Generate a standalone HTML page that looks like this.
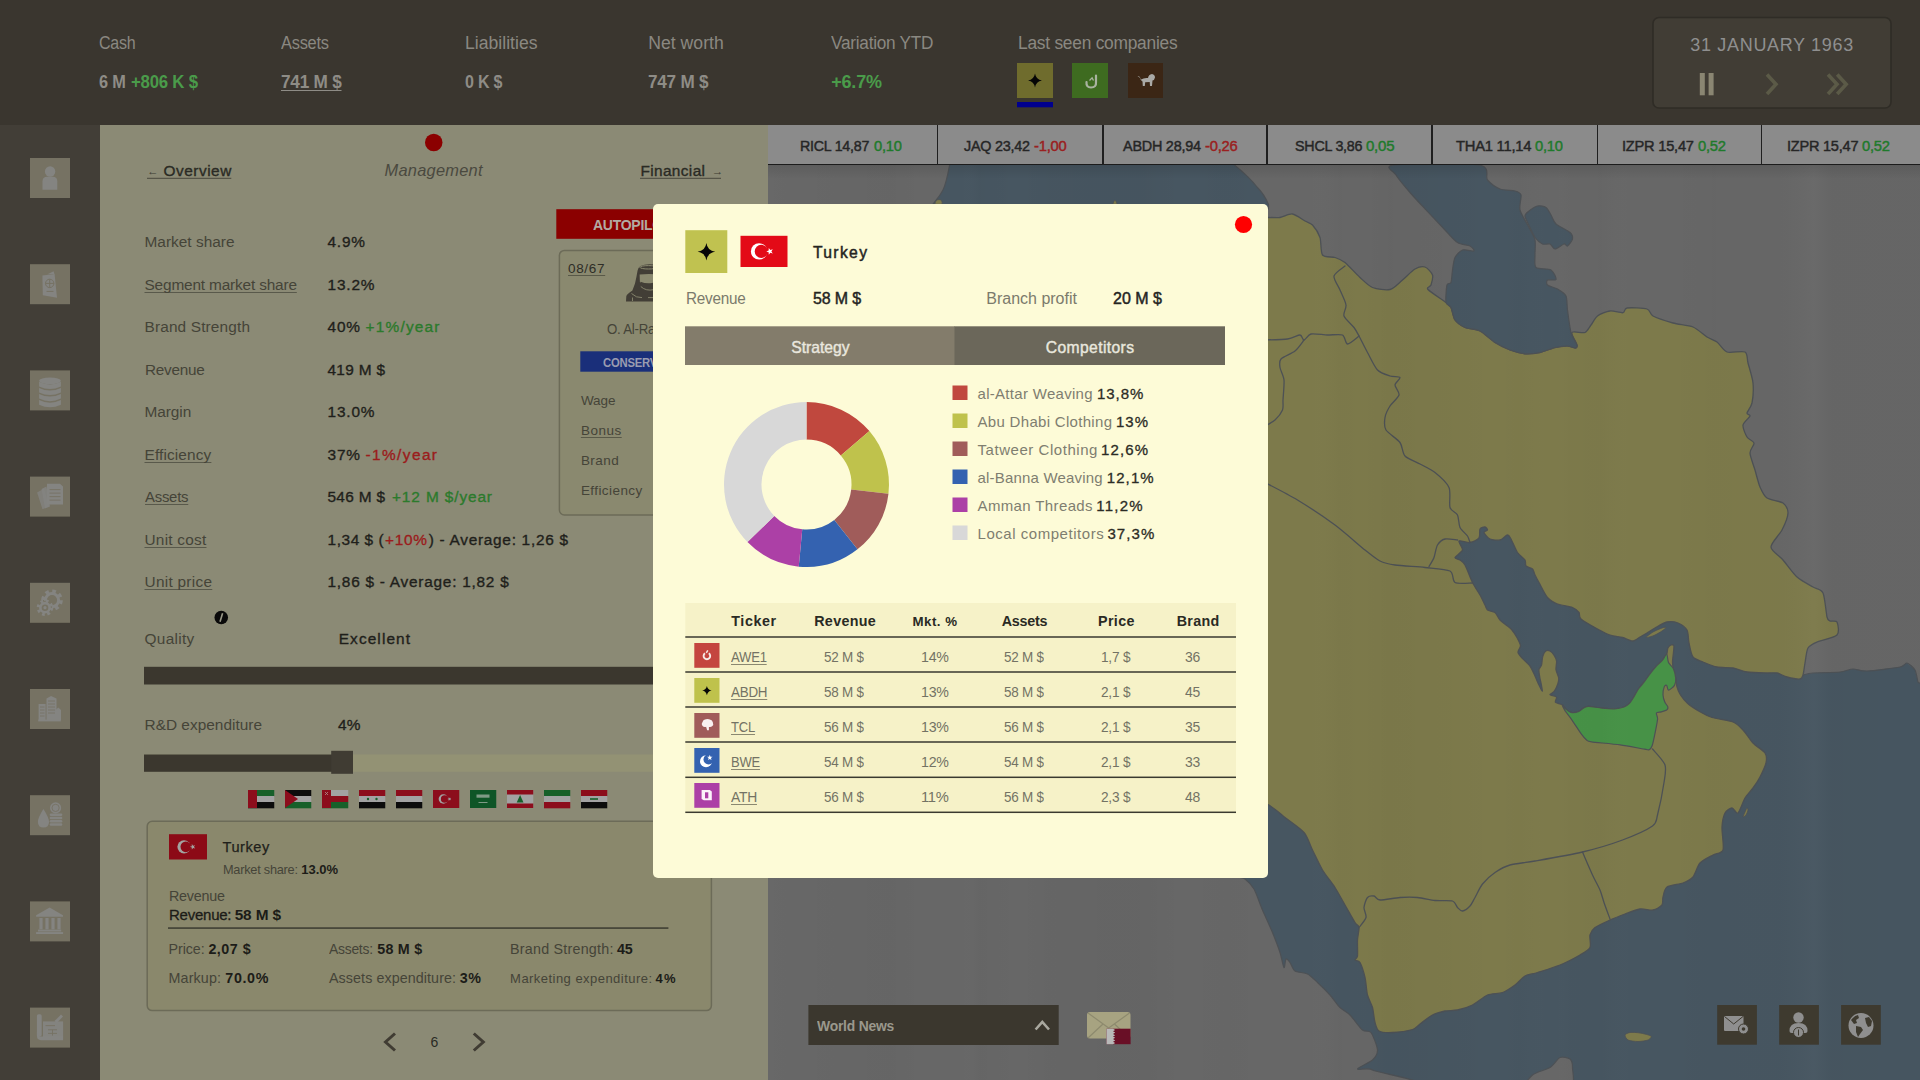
<!DOCTYPE html><html><head><meta charset="utf-8"><title>Competitors - Turkey</title><style>
html,body{margin:0;padding:0}
body{width:1920px;height:1080px;overflow:hidden;position:relative;background:#686868;font-family:"Liberation Sans",sans-serif}
.t{position:absolute;white-space:nowrap;line-height:1;transform-origin:0 0;font-family:"Liberation Sans",sans-serif}
.a{position:absolute}
svg{display:block}
</style></head><body><svg id="map" width="1920" height="1080" viewBox="0 0 1920 1080" style="position:absolute;left:0;top:0"><defs><clipPath id="mc"><rect x="768" y="165" width="1152" height="915"/></clipPath><linearGradient id="tx" x1="0" y1="0" x2="1" y2="0"><stop offset="0.000" stop-color="rgb(255,255,255)" stop-opacity="0.010"/><stop offset="0.027" stop-color="rgb(0,0,0)" stop-opacity="0.000"/><stop offset="0.059" stop-color="rgb(0,0,0)" stop-opacity="0.010"/><stop offset="0.106" stop-color="rgb(0,0,0)" stop-opacity="0.018"/><stop offset="0.134" stop-color="rgb(0,0,0)" stop-opacity="0.000"/><stop offset="0.167" stop-color="rgb(255,255,255)" stop-opacity="0.000"/><stop offset="0.184" stop-color="rgb(0,0,0)" stop-opacity="0.018"/><stop offset="0.218" stop-color="rgb(0,0,0)" stop-opacity="0.000"/><stop offset="0.245" stop-color="rgb(0,0,0)" stop-opacity="0.018"/><stop offset="0.290" stop-color="rgb(0,0,0)" stop-opacity="0.025"/><stop offset="0.322" stop-color="rgb(0,0,0)" stop-opacity="0.025"/><stop offset="0.360" stop-color="rgb(0,0,0)" stop-opacity="0.000"/><stop offset="0.397" stop-color="rgb(0,0,0)" stop-opacity="0.010"/><stop offset="0.436" stop-color="rgb(0,0,0)" stop-opacity="0.000"/><stop offset="0.467" stop-color="rgb(255,255,255)" stop-opacity="0.000"/><stop offset="0.496" stop-color="rgb(0,0,0)" stop-opacity="0.015"/><stop offset="0.518" stop-color="rgb(0,0,0)" stop-opacity="0.010"/><stop offset="0.539" stop-color="rgb(0,0,0)" stop-opacity="0.025"/><stop offset="0.584" stop-color="rgb(0,0,0)" stop-opacity="0.015"/><stop offset="0.633" stop-color="rgb(0,0,0)" stop-opacity="0.000"/><stop offset="0.652" stop-color="rgb(0,0,0)" stop-opacity="0.010"/><stop offset="0.682" stop-color="rgb(255,255,255)" stop-opacity="0.000"/><stop offset="0.697" stop-color="rgb(0,0,0)" stop-opacity="0.010"/><stop offset="0.723" stop-color="rgb(0,0,0)" stop-opacity="0.015"/><stop offset="0.752" stop-color="rgb(255,255,255)" stop-opacity="0.000"/><stop offset="0.782" stop-color="rgb(0,0,0)" stop-opacity="0.000"/><stop offset="0.821" stop-color="rgb(0,0,0)" stop-opacity="0.015"/><stop offset="0.847" stop-color="rgb(0,0,0)" stop-opacity="0.010"/><stop offset="0.877" stop-color="rgb(0,0,0)" stop-opacity="0.010"/><stop offset="0.908" stop-color="rgb(255,255,255)" stop-opacity="0.018"/><stop offset="0.924" stop-color="rgb(0,0,0)" stop-opacity="0.018"/><stop offset="0.971" stop-color="rgb(0,0,0)" stop-opacity="0.015"/></linearGradient><linearGradient id="ts" x1="0" y1="0" x2="0" y2="1"><stop offset="0" stop-color="#000" stop-opacity=".10"/><stop offset="1" stop-color="#000" stop-opacity="0"/></linearGradient></defs><g clip-path="url(#mc)"><rect x="768" y="165" width="1152" height="915" fill="#676767"/><path d="M1470.0,520.0 L1700.0,605.0 L1803.0,675.0 L1813.0,673.0 L1840.0,672.0 L1853.0,669.0 L1867.0,671.0 L1900.0,667.0 L1907.0,663.0 L1915.0,670.0 L1918.0,682.0 L1920.0,683.0 L1920.0,1090.0 L1100.0,1090.0 L1100.0,700.0 L1300.0,700.0 Z" fill="#475661"/><path d="M1200.0,217.5 C1209.1,145.2 1257.3,217.5 1268.0,217.5 C1278.7,217.5 1276.7,218.0 1280.0,217.5 C1283.3,217.0 1289.2,213.5 1292.5,214.0 C1295.8,214.5 1302.3,219.5 1305.0,221.0 C1307.7,222.5 1310.5,222.8 1312.5,225.0 C1314.5,227.2 1318.7,233.5 1320.0,237.5 C1321.3,241.5 1320.5,252.3 1322.5,255.0 C1324.5,257.7 1332.0,256.5 1335.0,257.5 C1338.0,258.5 1341.7,259.8 1345.0,262.5 C1348.3,265.2 1356.3,274.2 1360.0,277.5 C1363.7,280.8 1368.5,285.9 1372.5,287.5 C1376.5,289.1 1386.0,290.5 1390.0,289.5 C1394.0,288.5 1399.2,282.7 1402.5,280.0 C1405.8,277.3 1412.0,270.7 1415.0,269.0 C1418.0,267.3 1422.7,266.2 1425.0,267.0 C1427.3,267.8 1431.7,272.6 1432.5,275.0 C1433.3,277.4 1431.6,283.1 1431.0,285.0 C1430.4,286.9 1426.0,287.2 1428.0,289.5 C1430.0,291.8 1442.9,300.1 1446.0,302.5 C1449.1,304.9 1449.8,305.2 1451.0,307.5 C1452.2,309.8 1453.1,317.3 1455.0,320.0 C1456.9,322.7 1461.7,326.0 1465.0,327.5 C1468.3,329.0 1476.0,329.0 1480.0,331.0 C1484.0,333.0 1491.0,340.0 1495.0,342.5 C1499.0,345.0 1506.0,348.5 1510.0,350.0 C1514.0,351.5 1521.0,353.4 1525.0,353.8 C1529.0,354.1 1536.0,353.3 1540.0,352.5 C1544.0,351.7 1551.3,348.4 1555.0,347.5 C1558.7,346.6 1564.8,345.9 1567.5,346.0 C1570.2,346.1 1573.7,348.1 1575.0,348.0 C1576.3,347.9 1577.4,347.1 1577.0,345.0 C1576.6,342.9 1570.9,334.2 1572.0,332.5 C1573.1,330.8 1582.5,333.5 1585.0,332.5 C1587.5,331.5 1589.3,327.2 1591.0,325.0 C1592.7,322.8 1595.0,317.9 1597.5,316.0 C1600.0,314.1 1606.6,311.4 1610.0,311.0 C1613.4,310.6 1620.7,313.1 1623.0,312.7 C1625.3,312.3 1623.8,308.5 1627.0,308.0 C1630.2,307.5 1643.5,307.9 1647.0,309.0 C1650.5,310.1 1649.5,314.1 1653.0,316.0 C1656.5,317.9 1667.7,321.5 1673.0,323.0 C1678.3,324.5 1688.5,325.1 1693.0,327.0 C1697.5,328.9 1703.8,335.0 1707.0,337.0 C1710.2,339.0 1714.3,340.0 1717.0,342.0 C1719.7,344.0 1723.3,350.7 1727.0,352.0 C1730.7,353.3 1742.2,350.5 1745.0,352.0 C1747.8,353.5 1746.9,358.9 1748.0,363.0 C1749.1,367.1 1752.5,377.7 1753.0,383.0 C1753.5,388.3 1752.8,399.0 1752.0,403.0 C1751.2,407.0 1747.3,411.3 1747.0,413.0 C1746.7,414.7 1750.5,414.4 1750.0,416.0 C1749.5,417.6 1743.4,422.2 1743.0,425.0 C1742.6,427.8 1745.5,434.6 1747.0,437.0 C1748.5,439.4 1753.6,440.9 1754.0,443.0 C1754.4,445.1 1749.9,449.4 1750.0,453.0 C1750.1,456.6 1753.7,465.5 1755.0,470.0 C1756.3,474.5 1758.4,483.3 1760.0,487.0 C1761.6,490.7 1763.9,495.9 1767.0,498.0 C1770.1,500.1 1780.2,501.0 1783.0,503.0 C1785.8,505.0 1788.1,509.4 1788.0,513.0 C1787.9,516.6 1784.3,525.5 1782.0,530.0 C1779.7,534.5 1770.9,543.0 1771.0,547.0 C1771.1,551.0 1779.5,556.0 1783.0,560.0 C1786.5,564.0 1793.0,573.4 1797.0,577.0 C1801.0,580.6 1809.5,584.9 1813.0,587.0 C1816.5,589.1 1821.1,589.0 1823.0,593.0 C1824.9,597.0 1826.1,613.3 1827.0,617.0 C1827.9,620.7 1828.7,620.3 1830.0,621.0 C1831.3,621.7 1836.1,620.1 1837.0,622.0 C1837.9,623.9 1839.7,632.3 1837.0,635.0 C1834.3,637.7 1820.9,640.3 1817.0,642.0 C1813.1,643.7 1809.6,645.2 1808.0,648.0 C1806.4,650.8 1805.7,659.4 1805.0,663.0 C1804.3,666.6 1803.7,672.9 1803.0,675.0 C1802.3,677.1 1802.1,678.7 1800.0,679.0 C1797.9,679.3 1790.1,677.8 1787.0,677.0 C1783.9,676.2 1779.7,673.5 1777.0,673.0 C1774.3,672.5 1771.0,673.1 1767.0,673.0 C1763.0,672.9 1751.5,672.7 1747.0,672.0 C1742.5,671.3 1737.0,668.7 1733.0,668.0 C1729.0,667.3 1721.0,667.8 1717.0,667.0 C1713.0,666.2 1706.2,663.3 1703.0,662.0 C1699.8,660.7 1694.9,659.5 1693.0,657.0 C1691.1,654.5 1689.8,646.6 1689.0,643.0 C1688.2,639.4 1688.5,632.7 1687.0,630.0 C1685.5,627.3 1680.7,624.1 1678.0,623.0 C1675.3,621.9 1670.1,621.3 1667.0,622.0 C1663.9,622.7 1657.7,626.5 1655.0,628.0 C1652.3,629.5 1649.0,631.8 1647.0,633.0 C1645.0,634.2 1641.9,635.9 1640.0,637.0 C1638.1,638.1 1634.8,640.9 1632.5,641.0 C1630.2,641.1 1625.5,638.3 1622.5,637.5 C1619.5,636.7 1613.3,636.1 1610.0,635.0 C1606.7,633.9 1601.4,631.1 1597.5,629.0 C1593.6,626.9 1583.5,621.2 1581.0,619.0 C1578.5,616.8 1580.1,614.0 1579.0,612.5 C1577.9,611.0 1575.4,608.6 1572.5,607.5 C1569.6,606.4 1560.8,605.3 1557.5,604.0 C1554.2,602.7 1550.0,600.4 1547.5,597.5 C1545.0,594.6 1540.7,585.5 1539.0,582.5 C1537.3,579.5 1535.9,576.8 1535.0,575.0 C1534.1,573.2 1533.7,570.2 1532.5,569.0 C1531.3,567.8 1527.0,567.2 1526.0,566.0 C1525.0,564.8 1526.1,561.8 1525.0,560.0 C1523.9,558.2 1519.4,555.3 1517.5,552.5 C1515.6,549.7 1512.3,541.3 1511.0,539.0 C1509.7,536.7 1509.0,534.9 1507.5,535.0 C1506.0,535.1 1502.3,539.5 1500.0,540.0 C1497.7,540.5 1492.1,540.0 1490.0,539.0 C1487.9,538.0 1484.3,533.7 1484.0,532.5 C1483.7,531.3 1487.4,530.7 1487.5,530.0 C1487.6,529.3 1486.0,527.1 1485.0,527.0 C1484.0,526.9 1480.8,527.5 1480.0,529.0 C1479.2,530.5 1480.3,536.2 1479.0,538.0 C1477.7,539.8 1472.7,542.1 1470.0,542.5 C1467.3,542.9 1460.0,540.0 1459.0,541.0 C1458.0,542.0 1463.0,547.8 1462.5,550.0 C1462.0,552.2 1455.3,556.2 1455.0,557.5 C1454.7,558.8 1458.7,559.0 1460.0,560.0 C1461.3,561.0 1463.3,562.0 1465.0,565.0 C1466.7,568.0 1470.5,578.5 1472.5,582.5 C1474.5,586.5 1478.3,592.0 1480.0,595.0 C1481.7,598.0 1484.0,603.0 1485.0,605.0 C1486.0,607.0 1486.2,609.0 1487.5,610.0 C1488.8,611.0 1493.3,611.2 1495.0,612.5 C1496.7,613.8 1498.3,618.2 1500.0,620.0 C1501.7,621.8 1505.9,624.7 1507.5,626.0 C1509.1,627.3 1510.8,628.5 1512.0,630.0 C1513.2,631.5 1515.7,635.1 1516.8,637.2 C1517.9,639.3 1520.3,643.6 1520.5,645.6 C1520.7,647.6 1517.7,650.5 1518.0,652.3 C1518.3,654.1 1521.3,657.1 1522.9,658.9 C1524.5,660.7 1528.4,663.8 1530.0,666.0 C1531.6,668.2 1533.8,673.3 1534.9,675.7 C1536.0,678.1 1537.5,681.9 1538.5,684.0 C1539.5,686.1 1541.8,691.2 1542.2,691.2 C1542.6,691.2 1541.5,685.8 1541.2,684.0 C1540.9,682.2 1540.2,679.9 1539.9,678.0 C1539.6,676.1 1538.7,671.4 1538.9,669.7 C1539.1,668.0 1541.0,666.8 1541.5,665.0 C1542.0,663.2 1542.1,658.4 1542.7,656.5 C1543.3,654.6 1544.7,651.7 1545.7,651.0 C1546.7,650.3 1548.9,650.4 1550.0,651.0 C1551.1,651.6 1553.3,653.9 1554.2,655.3 C1555.1,656.7 1556.4,659.4 1556.6,661.3 C1556.8,663.2 1555.7,667.5 1556.0,669.7 C1556.3,671.9 1558.5,676.1 1558.7,678.0 C1558.9,679.9 1558.4,682.2 1557.8,684.0 C1557.2,685.8 1555.2,690.0 1554.2,691.4 C1553.2,692.8 1550.2,693.9 1550.0,694.5 C1549.8,695.1 1552.1,695.2 1553.0,695.6 C1553.9,696.0 1556.3,696.5 1556.6,697.4 C1556.9,698.3 1554.9,701.3 1555.4,702.2 C1555.9,703.1 1559.2,703.6 1560.2,704.0 C1561.2,704.4 1561.8,704.5 1562.6,705.2 C1563.4,705.9 1565.1,708.4 1566.2,709.4 C1567.3,710.4 1569.4,712.1 1571.0,712.4 C1572.6,712.7 1576.4,712.4 1578.2,711.8 C1580.0,711.2 1582.8,708.3 1584.2,707.6 C1585.6,706.9 1586.6,706.3 1589.0,706.4 C1591.4,706.5 1598.9,707.9 1602.3,708.2 C1605.7,708.5 1611.4,709.0 1614.3,708.8 C1617.2,708.6 1622.0,707.7 1624.0,707.0 C1626.0,706.3 1628.1,704.7 1629.4,703.4 C1630.7,702.1 1632.4,699.3 1633.6,697.4 C1634.8,695.5 1637.0,691.1 1638.4,689.0 C1639.8,686.9 1642.8,683.8 1644.4,681.7 C1646.0,679.6 1648.8,675.4 1650.4,673.3 C1652.0,671.2 1654.8,667.9 1656.4,666.1 C1658.0,664.3 1661.1,661.7 1662.5,660.1 C1663.9,658.5 1666.0,655.7 1666.7,654.1 C1667.4,652.5 1667.3,649.2 1667.9,648.0 C1668.5,646.8 1670.1,645.3 1670.9,645.0 C1671.7,644.7 1673.6,644.4 1673.9,645.6 C1674.2,646.8 1673.5,651.8 1673.3,654.0 C1673.1,656.2 1672.5,660.1 1672.5,662.0 C1672.5,663.9 1672.9,666.4 1673.3,668.5 C1673.7,670.6 1675.2,675.7 1675.7,678.1 C1676.2,680.5 1676.3,684.3 1676.9,686.6 C1677.5,688.9 1679.1,692.8 1680.5,695.0 C1681.9,697.2 1685.1,701.2 1687.7,703.4 C1690.3,705.6 1696.8,709.9 1700.0,711.8 C1703.2,713.7 1707.6,716.1 1712.0,717.5 C1716.4,718.9 1728.9,720.3 1733.0,722.0 C1737.1,723.7 1740.3,727.2 1743.0,730.0 C1745.7,732.8 1750.1,739.9 1753.0,743.0 C1755.9,746.1 1763.3,750.3 1765.0,753.0 C1766.7,755.7 1766.7,759.8 1766.0,763.0 C1765.3,766.2 1761.7,773.7 1760.0,777.0 C1758.3,780.3 1755.0,785.2 1753.0,788.0 C1751.0,790.8 1747.0,794.7 1745.0,798.0 C1743.0,801.3 1739.7,811.7 1738.0,813.0 C1736.3,814.3 1733.7,808.0 1732.0,808.0 C1730.3,808.0 1726.3,810.5 1725.0,813.0 C1723.7,815.5 1722.3,822.1 1722.0,827.0 C1721.7,831.9 1724.2,846.3 1723.0,850.0 C1721.8,853.7 1716.1,853.3 1713.0,855.0 C1709.9,856.7 1702.7,860.1 1700.0,863.0 C1697.3,865.9 1695.3,874.3 1693.0,877.0 C1690.7,879.7 1686.5,881.7 1683.0,883.0 C1679.5,884.3 1669.7,885.1 1667.0,887.0 C1664.3,888.9 1663.7,894.6 1663.0,897.0 C1662.3,899.4 1663.3,903.3 1662.0,905.0 C1660.7,906.7 1655.9,909.5 1653.0,910.0 C1650.1,910.5 1643.7,908.5 1640.0,909.0 C1636.3,909.5 1629.0,912.5 1625.0,914.0 C1621.0,915.5 1614.0,918.2 1610.0,920.0 C1606.0,921.8 1597.7,925.5 1595.0,927.5 C1592.3,929.5 1590.7,932.3 1590.0,935.0 C1589.3,937.7 1591.3,944.8 1590.0,947.5 C1588.7,950.2 1584.0,952.7 1580.0,955.0 C1576.0,957.3 1565.7,962.7 1560.0,965.0 C1554.3,967.3 1542.2,971.0 1537.5,972.5 C1532.8,974.0 1528.0,974.3 1525.0,976.0 C1522.0,977.7 1518.0,982.8 1515.0,985.0 C1512.0,987.2 1506.2,991.2 1502.5,992.5 C1498.8,993.8 1491.5,993.3 1487.5,995.0 C1483.5,996.7 1476.5,1003.0 1472.5,1005.0 C1468.5,1007.0 1461.2,1009.2 1457.5,1010.0 C1453.8,1010.8 1448.3,1010.3 1445.0,1011.0 C1441.7,1011.7 1435.8,1013.3 1432.5,1015.0 C1429.2,1016.7 1422.7,1022.1 1420.0,1024.0 C1417.3,1025.9 1416.2,1028.4 1412.5,1029.5 C1408.8,1030.6 1397.0,1032.3 1392.5,1032.5 C1388.0,1032.7 1381.3,1032.3 1379.0,1031.0 C1376.7,1029.7 1375.9,1025.6 1375.0,1022.5 C1374.1,1019.4 1373.5,1011.2 1372.5,1007.5 C1371.5,1003.8 1368.5,999.0 1367.5,995.0 C1366.5,991.0 1366.0,981.8 1365.0,977.5 C1364.0,973.2 1361.3,964.8 1360.0,962.5 C1358.7,960.2 1355.3,960.9 1355.0,960.0 C1354.7,959.1 1357.2,958.7 1357.5,956.0 C1357.8,953.3 1357.3,943.8 1357.5,940.0 C1357.7,936.2 1359.3,929.8 1359.0,927.5 C1358.7,925.2 1356.9,925.5 1355.0,922.5 C1353.1,919.5 1347.7,909.7 1345.0,905.0 C1342.3,900.3 1338.0,892.2 1335.0,887.5 C1332.0,882.8 1325.5,875.0 1322.5,870.0 C1319.5,865.0 1315.0,855.0 1312.5,850.0 C1310.0,845.0 1307.7,836.8 1304.0,832.5 C1300.3,828.2 1289.7,821.2 1285.0,817.5 C1280.3,813.8 1280.3,812.7 1269.0,805.0 C1257.7,797.3 1209.2,838.3 1200.0,760.0 C1190.8,681.7 1190.9,289.8 1200.0,217.5 Z" fill="#7d7a4b" stroke="#4d5155" stroke-width="1.3" stroke-linejoin="round"/><path d="M950,163 C948,174 946,184 943,190 C940,196 937,199 933,204 L933,209 L1268.5,209 L1268.5,204.5 C1265,196 1261,191 1257,187 C1250,178 1242,171 1232,163 Z" fill="#475661" stroke="#4d5155" stroke-width="1.2"/><path d="M1393.8,165.0 C1382.7,166.3 1393.8,171.3 1396.0,175.0 C1398.2,178.7 1406.1,188.0 1410.0,192.5 C1413.9,197.0 1420.3,203.8 1425.0,208.8 C1429.7,213.8 1440.7,225.5 1445.0,230.0 C1449.3,234.5 1454.2,240.4 1457.5,242.5 C1460.8,244.6 1467.8,244.9 1470.0,246.0 C1472.2,247.1 1474.8,250.5 1473.8,251.0 C1472.8,251.5 1465.0,249.1 1462.5,250.0 C1460.0,250.9 1456.3,254.8 1455.0,257.5 C1453.7,260.2 1453.0,266.7 1452.5,270.0 C1452.0,273.3 1451.7,280.5 1451.0,282.5 C1450.3,284.5 1447.7,282.3 1447.0,285.0 C1446.3,287.7 1445.5,299.5 1446.0,302.5 C1446.5,305.5 1449.8,305.2 1451.0,307.5 C1452.2,309.8 1453.1,317.3 1455.0,320.0 C1456.9,322.7 1461.7,326.0 1465.0,327.5 C1468.3,329.0 1476.0,329.0 1480.0,331.0 C1484.0,333.0 1491.0,340.0 1495.0,342.5 C1499.0,345.0 1506.0,348.5 1510.0,350.0 C1514.0,351.5 1521.0,353.4 1525.0,353.8 C1529.0,354.1 1536.0,353.3 1540.0,352.5 C1544.0,351.7 1551.3,348.4 1555.0,347.5 C1558.7,346.6 1564.8,345.9 1567.5,346.0 C1570.2,346.1 1573.7,348.1 1575.0,348.0 C1576.3,347.9 1577.5,347.1 1577.0,345.0 C1576.5,342.9 1572.3,337.2 1571.0,332.5 C1569.7,327.8 1568.2,314.9 1567.5,310.0 C1566.8,305.1 1567.3,298.8 1566.0,296.0 C1564.7,293.2 1560.0,290.5 1557.5,289.0 C1555.0,287.5 1548.8,286.2 1547.5,285.0 C1546.2,283.8 1546.4,280.7 1547.5,280.0 C1548.6,279.3 1555.5,280.8 1556.0,279.5 C1556.5,278.2 1553.7,271.6 1551.0,270.0 C1548.3,268.4 1538.1,269.5 1536.0,267.5 C1533.9,265.5 1535.1,258.7 1535.0,255.0 C1534.9,251.3 1535.8,243.7 1535.0,240.0 C1534.2,236.3 1531.0,231.5 1529.0,227.5 C1527.0,223.5 1521.1,214.3 1520.0,210.0 C1518.9,205.7 1521.7,197.5 1521.0,195.0 C1520.3,192.5 1517.8,191.8 1515.0,191.0 C1512.2,190.2 1503.7,190.5 1500.0,189.0 C1496.3,187.5 1490.3,183.2 1487.5,180.0 C1484.7,176.8 1491.5,167.0 1479.0,165.0 C1466.5,163.0 1404.8,163.7 1393.8,165.0 Z" fill="#475661" stroke="#4d5155" stroke-width="1.2" stroke-linejoin="round"/><path d="M1525.0,216.0 C1524.9,213.8 1527.3,212.3 1529.0,211.0 C1530.7,209.7 1535.2,206.5 1537.5,206.0 C1539.8,205.5 1544.2,206.3 1546.0,207.5 C1547.8,208.7 1549.7,212.8 1551.0,215.0 C1552.3,217.2 1553.5,221.7 1556.0,224.0 C1558.5,226.3 1567.8,230.5 1570.0,232.5 C1572.2,234.5 1572.8,237.2 1572.5,239.0 C1572.2,240.8 1568.6,245.3 1567.5,246.0 C1566.4,246.7 1565.7,243.6 1564.0,244.0 C1562.3,244.4 1556.9,249.0 1555.0,249.0 C1553.1,249.0 1551.7,244.7 1550.0,244.0 C1548.3,243.3 1544.5,244.9 1542.5,244.0 C1540.5,243.1 1536.7,239.7 1535.0,237.5 C1533.3,235.3 1531.3,230.4 1530.0,227.5 C1528.7,224.6 1525.1,218.2 1525.0,216.0 Z" fill="#475661" stroke="#4d5155" stroke-width="1.2" stroke-linejoin="round"/><path d="M700.0,860.0 C760.0,830.1 1080.0,864.1 1150.0,866.0 C1220.0,867.9 1213.0,872.5 1225.0,874.0 C1237.0,875.5 1237.3,876.8 1240.0,877.5 C1242.7,878.2 1243.1,877.5 1245.0,879.0 C1246.9,880.5 1251.7,884.9 1254.0,889.0 C1256.3,893.1 1260.0,904.2 1262.5,910.0 C1265.0,915.8 1270.2,926.8 1272.5,932.5 C1274.8,938.2 1278.5,947.8 1280.0,952.5 C1281.5,957.2 1283.2,966.6 1284.0,967.5 C1284.8,968.4 1285.2,959.7 1286.0,959.0 C1286.8,958.3 1288.8,960.9 1290.0,962.5 C1291.2,964.1 1292.7,969.5 1295.0,971.0 C1297.3,972.5 1304.5,972.5 1307.5,974.0 C1310.5,975.5 1314.5,979.7 1317.5,982.5 C1320.5,985.3 1327.0,991.7 1330.0,995.0 C1333.0,998.3 1337.3,1004.8 1340.0,1007.5 C1342.7,1010.2 1347.0,1012.0 1350.0,1015.0 C1353.0,1018.0 1359.7,1027.7 1362.5,1030.0 C1365.3,1032.3 1369.0,1029.8 1371.0,1032.5 C1373.0,1035.2 1377.3,1046.3 1377.5,1050.0 C1377.7,1053.7 1375.2,1057.5 1372.5,1060.0 C1369.8,1062.5 1357.5,1067.7 1357.5,1069.0 C1357.5,1070.3 1369.2,1067.2 1372.5,1070.0 C1375.8,1072.8 1472.2,1087.3 1382.5,1090.0 C1292.8,1092.7 791.0,1120.7 700.0,1090.0 C609.0,1059.3 640.0,889.9 700.0,860.0 Z" fill="#676767" stroke="#4d5155" stroke-width="1.2" stroke-linejoin="round"/><path d="M1525.0,1090.0 C1520.0,1088.0 1529.2,1078.0 1532.5,1075.0 C1535.8,1072.0 1546.3,1069.8 1550.0,1067.5 C1553.7,1065.2 1557.3,1058.6 1560.0,1057.5 C1562.7,1056.4 1568.3,1057.7 1570.0,1059.0 C1571.7,1060.3 1572.5,1063.4 1572.5,1067.5 C1572.5,1071.6 1576.3,1087.0 1570.0,1090.0 C1563.7,1093.0 1530.0,1092.0 1525.0,1090.0 Z" fill="#676767" stroke="#4d5155" stroke-width="1.2" stroke-linejoin="round"/><path d="M1803.0,675.0 C1804.3,674.7 1808.1,673.4 1813.0,673.0 C1817.9,672.6 1834.7,672.5 1840.0,672.0 C1845.3,671.5 1849.4,669.1 1853.0,669.0 C1856.6,668.9 1860.7,671.3 1867.0,671.0 C1873.3,670.7 1894.7,668.1 1900.0,667.0 C1905.3,665.9 1905.0,662.6 1907.0,663.0 C1909.0,663.4 1913.5,667.5 1915.0,670.0 C1916.5,672.5 1917.3,680.3 1918.0,682.0 C1918.7,683.7 1919.7,682.9 1920.0,683.0" fill="none" stroke="#4d5155" stroke-width="1.2"/><path d="M1646.0,637.5 C1645.9,637.0 1650.9,633.3 1653.0,632.0 C1655.1,630.7 1660.3,628.6 1662.0,628.0 C1663.7,627.4 1666.0,627.1 1666.0,627.5 C1666.0,627.9 1663.6,629.9 1662.0,631.0 C1660.4,632.1 1656.1,634.6 1654.0,635.5 C1651.9,636.4 1646.1,638.0 1646.0,637.5 Z" fill="#7d7a4b" stroke="#4d5155" stroke-width="0.8"/><path d="M1743.0,817.0 C1742.9,816.6 1744.5,813.2 1745.0,812.0 C1745.5,810.8 1746.6,808.3 1747.0,808.0 C1747.4,807.7 1748.1,809.1 1748.0,810.0 C1747.9,810.9 1746.7,814.1 1746.0,815.0 C1745.3,815.9 1743.1,817.4 1743.0,817.0 Z" fill="#7d7a4b" stroke="#4d5155" stroke-width="0.8"/><path d="M1625.0,1035.0 C1625.3,1034.0 1628.0,1032.8 1630.0,1032.5 C1632.0,1032.2 1637.2,1032.5 1640.0,1033.0 C1642.8,1033.5 1649.9,1035.1 1651.0,1036.0 C1652.1,1036.9 1649.7,1039.3 1648.0,1040.0 C1646.3,1040.7 1640.7,1041.5 1638.0,1041.5 C1635.3,1041.5 1629.7,1040.9 1628.0,1040.0 C1626.3,1039.1 1624.7,1036.0 1625.0,1035.0 Z" fill="#7d7a4b" stroke="#4d5155" stroke-width="0.8"/><path d="M935.0,204.0 C934.3,203.5 936.2,200.5 937.0,200.0 C937.8,199.5 940.3,199.5 941.0,200.0 C941.7,200.5 942.8,203.5 942.0,204.0 C941.2,204.5 935.7,204.5 935.0,204.0 Z" fill="#7d7a4b" stroke="#4d5155" stroke-width="0.8"/><path d="M1113.0,204.0 C1112.7,203.5 1114.5,200.0 1115.0,200.0 C1115.5,200.0 1117.3,203.5 1117.0,204.0 C1116.7,204.5 1113.3,204.5 1113.0,204.0 Z" fill="#7d7a4b" stroke="#4d5155" stroke-width="0.8"/><path d="M1562.6,705.2 C1562.8,705.0 1565.1,708.4 1566.2,709.4 C1567.3,710.4 1569.4,712.1 1571.0,712.4 C1572.6,712.7 1576.4,712.4 1578.2,711.8 C1580.0,711.2 1582.8,708.3 1584.2,707.6 C1585.6,706.9 1586.6,706.3 1589.0,706.4 C1591.4,706.5 1598.9,707.9 1602.3,708.2 C1605.7,708.5 1611.4,709.0 1614.3,708.8 C1617.2,708.6 1622.0,707.7 1624.0,707.0 C1626.0,706.3 1628.1,704.7 1629.4,703.4 C1630.7,702.1 1632.4,699.3 1633.6,697.4 C1634.8,695.5 1637.0,691.1 1638.4,689.0 C1639.8,686.9 1642.8,683.8 1644.4,681.7 C1646.0,679.6 1648.8,675.4 1650.4,673.3 C1652.0,671.2 1654.8,667.9 1656.4,666.1 C1658.0,664.3 1661.1,661.7 1662.5,660.1 C1663.9,658.5 1665.9,653.8 1666.7,654.1 C1667.5,654.4 1667.6,660.6 1668.5,662.5 C1669.4,664.4 1672.3,666.4 1673.3,668.5 C1674.3,670.6 1675.5,675.8 1675.7,678.1 C1675.9,680.4 1675.5,683.8 1674.5,685.4 C1673.5,687.0 1669.5,690.2 1668.5,690.2 C1667.5,690.2 1667.3,685.9 1666.7,685.4 C1666.1,684.9 1664.8,685.3 1664.3,686.6 C1663.8,687.9 1662.9,692.9 1663.0,695.0 C1663.1,697.1 1664.2,700.6 1664.9,702.2 C1665.6,703.8 1667.7,706.0 1667.9,707.0 C1668.1,708.0 1667.6,709.4 1666.7,710.0 C1665.8,710.6 1662.7,711.4 1661.3,711.8 C1659.9,712.2 1656.9,712.0 1656.4,713.0 C1655.9,714.0 1657.8,716.4 1657.6,719.0 C1657.4,721.6 1655.9,728.8 1655.2,732.3 C1654.5,735.8 1653.0,743.2 1652.2,745.5 C1651.4,747.8 1650.2,749.2 1649.2,749.7 C1648.2,750.2 1648.3,749.7 1644.4,749.1 C1640.5,748.5 1627.4,745.9 1620.3,744.9 C1613.2,743.9 1596.0,742.5 1591.5,741.9 C1587.0,741.3 1587.9,741.1 1586.6,740.1 C1585.3,739.1 1583.7,737.3 1581.8,734.7 C1579.9,732.1 1574.4,723.5 1572.2,720.3 C1570.0,717.1 1566.3,712.6 1565.0,710.6 C1563.7,708.6 1562.4,705.4 1562.6,705.2 Z" fill="#479247" stroke="#4d5155" stroke-width="1.2" stroke-linejoin="round"/><path d="M1345.0,266.0 C1343.5,267.3 1334.7,272.8 1334.0,276.0 C1333.3,279.2 1338.4,286.1 1340.0,290.0 C1341.6,293.9 1345.5,301.5 1346.0,305.0 C1346.5,308.5 1342.9,313.0 1344.0,316.0 C1345.1,319.0 1352.0,324.8 1354.0,327.5 C1356.0,330.2 1357.2,332.7 1359.0,336.0 C1360.8,339.3 1365.0,348.0 1367.5,352.5 C1370.0,357.0 1374.5,366.9 1377.5,370.0 C1380.5,373.1 1387.0,375.0 1390.0,376.0 C1393.0,377.0 1399.3,376.3 1400.0,377.5 C1400.7,378.7 1395.1,382.7 1395.0,385.0 C1394.9,387.3 1399.7,392.2 1399.0,395.0 C1398.3,397.8 1391.9,403.0 1390.0,406.0 C1388.1,409.0 1385.5,414.3 1385.0,417.5 C1384.5,420.7 1384.0,426.7 1386.0,430.0 C1388.0,433.3 1397.5,439.0 1400.0,442.5 C1402.5,446.0 1402.3,453.1 1405.0,456.0 C1407.7,458.9 1416.0,461.8 1420.0,464.0 C1424.0,466.2 1431.1,469.4 1435.0,472.5 C1438.9,475.6 1447.0,482.8 1449.0,487.5 C1451.0,492.2 1448.9,503.8 1450.0,507.5 C1451.1,511.2 1456.2,512.3 1457.5,515.0 C1458.8,517.7 1458.7,524.7 1460.0,527.5 C1461.3,530.3 1466.2,534.0 1467.5,536.0 C1468.8,538.0 1469.7,541.6 1470.0,542.5" fill="none" stroke="#4d5155" stroke-width="1.3" stroke-linejoin="round" stroke-linecap="round"/><path d="M1260.0,340.0 C1263.7,339.9 1282.2,339.7 1287.5,339.0 C1292.8,338.3 1297.8,334.9 1300.0,335.0 C1302.2,335.1 1302.5,340.1 1304.0,340.0 C1305.5,339.9 1307.9,334.7 1311.0,334.0 C1314.1,333.3 1323.3,334.9 1327.5,335.0 C1331.7,335.1 1339.8,333.8 1342.5,335.0 C1345.2,336.2 1345.3,343.9 1347.5,344.0 C1349.7,344.1 1357.5,337.1 1359.0,336.0" fill="none" stroke="#4d5155" stroke-width="1.3" stroke-linejoin="round" stroke-linecap="round"/><path d="M1304.0,340.0 C1302.8,341.5 1298.1,348.5 1295.0,351.0 C1291.9,353.5 1283.0,356.8 1281.0,359.0 C1279.0,361.2 1279.6,364.7 1280.0,367.5 C1280.4,370.3 1283.6,375.7 1284.0,380.0 C1284.4,384.3 1283.2,396.0 1283.0,400.0 C1282.8,404.0 1283.6,407.3 1282.5,410.0 C1281.4,412.7 1277.7,417.6 1275.0,420.0 C1272.3,422.4 1263.7,426.9 1262.0,428.0" fill="none" stroke="#4d5155" stroke-width="1.3" stroke-linejoin="round" stroke-linecap="round"/><path d="M1262.0,481.0 C1266.7,483.5 1287.8,494.1 1297.5,500.0 C1307.2,505.9 1326.0,518.3 1335.0,525.0 C1344.0,531.7 1359.0,545.2 1365.0,550.0 C1371.0,554.8 1376.0,559.0 1380.0,561.0 C1384.0,563.0 1389.0,564.1 1395.0,565.0 C1401.0,565.9 1417.7,566.7 1425.0,567.5 C1432.3,568.3 1446.0,569.0 1450.0,571.0 C1454.0,573.0 1452.0,580.9 1455.0,582.5 C1458.0,584.1 1470.2,582.9 1472.5,583.0" fill="none" stroke="#4d5155" stroke-width="1.3" stroke-linejoin="round" stroke-linecap="round"/><path d="M1457.5,540.0 C1455.8,539.9 1447.7,538.3 1445.0,539.0 C1442.3,539.7 1439.0,542.5 1437.5,545.0 C1436.0,547.5 1435.1,554.6 1434.0,557.5 C1432.9,560.4 1429.7,565.3 1429.0,566.5" fill="none" stroke="#4d5155" stroke-width="1.3" stroke-linejoin="round" stroke-linecap="round"/><path d="M1652.5,749.0 C1654.2,751.1 1663.5,760.5 1665.0,765.0 C1666.5,769.5 1665.0,775.8 1664.0,782.5 C1663.0,789.2 1659.0,809.2 1657.5,815.0 C1656.0,820.8 1657.2,822.7 1652.5,826.0 C1647.8,829.3 1631.8,836.5 1622.5,840.0 C1613.2,843.5 1594.2,849.2 1582.5,852.0 C1570.8,854.8 1544.7,859.3 1535.0,861.0 C1525.3,862.7 1515.3,863.5 1510.0,865.0 C1504.7,866.5 1498.7,870.0 1495.0,872.5 C1491.3,875.0 1485.2,880.7 1482.5,884.0 C1479.8,887.3 1476.7,894.6 1475.0,897.5 C1473.3,900.4 1471.7,904.2 1470.0,906.0 C1468.3,907.8 1464.2,910.8 1462.5,911.0 C1460.8,911.2 1458.8,908.8 1457.5,907.5 C1456.2,906.2 1455.5,901.9 1452.5,901.0 C1449.5,900.1 1439.7,901.0 1435.0,900.5 C1430.3,900.0 1422.2,897.9 1417.5,897.5 C1412.8,897.1 1405.0,897.2 1400.0,897.5 C1395.0,897.8 1383.5,900.2 1380.0,900.0 C1376.5,899.8 1375.7,896.3 1374.0,896.0 C1372.3,895.7 1368.8,896.0 1367.5,897.5 C1366.2,899.0 1364.2,904.8 1364.0,907.5 C1363.8,910.2 1366.7,914.8 1366.0,917.5 C1365.3,920.2 1359.9,926.2 1359.0,927.5" fill="none" stroke="#4d5155" stroke-width="1.3" stroke-linejoin="round" stroke-linecap="round"/><path d="M1582.5,852.0 C1583.8,855.1 1590.2,869.9 1592.5,875.0 C1594.8,880.1 1598.5,886.3 1600.0,890.0 C1601.5,893.7 1602.7,898.6 1604.0,902.5 C1605.3,906.4 1609.2,916.8 1610.0,919.0" fill="none" stroke="#4d5155" stroke-width="1.3" stroke-linejoin="round" stroke-linecap="round"/><rect x="768" y="165" width="1152" height="915" fill="url(#tx)"/><rect x="768" y="165" width="1152" height="14" fill="url(#ts)"/></g></svg><div class="a" style="left:768px;top:125px;width:1152px;height:40px;background:#8b8b8b;border-bottom:1.4px solid #1c1c1c;box-sizing:border-box"></div><div class="a" style="left:936.8px;top:125px;width:1.6px;height:40px;background:#1f1f1f"></div><div class="a" style="left:1102.0px;top:125px;width:1.6px;height:40px;background:#1f1f1f"></div><div class="a" style="left:1266.0px;top:125px;width:1.6px;height:40px;background:#1f1f1f"></div><div class="a" style="left:1431.0px;top:125px;width:1.6px;height:40px;background:#1f1f1f"></div><div class="a" style="left:1596.5px;top:125px;width:1.6px;height:40px;background:#1f1f1f"></div><div class="a" style="left:1760.5px;top:125px;width:1.6px;height:40px;background:#1f1f1f"></div><div class="a" style="left:0;top:0;width:1920px;height:125px;background:#3a362f"></div><div class="a" style="left:0;top:125px;width:100px;height:955px;background:#423e37"></div><div class="a" style="left:100px;top:125px;width:668px;height:955px;background:#8b8a75"></div><svg width="1920" height="1080" viewBox="0 0 1920 1080" style="position:absolute;left:0;top:0"><rect x="30" y="158.0" width="40" height="40" fill="#767263"/><g transform="translate(50.0 178.0)" fill="#848481" stroke="none"><circle cx="0.1" cy="-6.5" r="5.2"/><path d="M-7.5,11.7 V3.2 Q-7.5,-1.3 -3,-1.3 H2.8 Q7.3,-1.3 7.3,3.2 V11.7Z"/></g><rect x="30" y="264.2" width="40" height="40" fill="#767263"/><g transform="translate(50.0 284.2)" fill="#848481" stroke="none"><path d="M-7.6,-8.6 L4.6,-10.2 L7,13.6 L-7.2,11 Z"/><path d="M-2.5,-10 L3.6,-13 L4.4,-10.3Z"/><circle cx="-0.3" cy="-0.8" r="4.2" fill="none" stroke="#767263" stroke-width="1"/><path d="M-4.5,-0.8 H3.9 M-0.3,-5 V3.4 M-3.5,7.2 H3.5" stroke="#767263" stroke-width="1" fill="none"/></g><rect x="30" y="370.4" width="40" height="40" fill="#767263"/><g transform="translate(50.0 390.4)" fill="#848481" stroke="none"><ellipse cx="0" cy="-9.6" rx="10.9" ry="3.4"/><path d="M-10.9,-8.6 Q0,-3.4 10.9,-8.6 V-4.0 Q0,1.2 -10.9,-4.0 Z"/><path d="M-10.9,-2.5 Q0,2.7 10.9,-2.5 V2.1 Q0,7.3 -10.9,2.1 Z"/><path d="M-10.9,3.6 Q0,8.8 10.9,3.6 V8.2 Q0,13.4 -10.9,8.2 Z"/><path d="M-10.9,9.7 Q0,14.9 10.9,9.7 V14.3 Q0,19.5 -10.9,14.3 Z"/></g><rect x="30" y="476.6" width="40" height="40" fill="#767263"/><g transform="translate(50.0 496.6)" fill="#848481" stroke="none"><path d="M-12.9,-4 L-6,-8 L-1,10 L-7.5,12.7Z" opacity=".75"/><path d="M-8.5,-7.5 L-3.5,-10 L0,10 L-5,12Z" opacity=".85"/><path d="M-3,-12.9 H10 L13,-10 V7.9 H-3Z"/><path d="M-0.5,-7 H10.5 M-0.5,-3.5 H10.5 M-0.5,0 H10.5 M-0.5,3.5 H10.5" stroke="#767263" stroke-width=".9"/></g><rect x="30" y="582.8" width="40" height="40" fill="#767263"/><g transform="translate(50.0 602.8)" fill="#848481" stroke="none"><circle cx="2" cy="-2.6" r="8.2" fill="none" stroke="#848481" stroke-width="5.2" stroke-dasharray="3.3 3.14"/><circle cx="2" cy="-2.6" r="6.6" fill="none" stroke="#848481" stroke-width="3"/><circle cx="-5" cy="4.9" r="7" fill="#767263"/><circle cx="-5" cy="4.9" r="6.3" fill="none" stroke="#848481" stroke-width="4" stroke-dasharray="2.5 2.45"/><circle cx="-5" cy="4.9" r="4.6" fill="none" stroke="#848481" stroke-width="2.6"/><circle cx="-5" cy="4.9" r="1.6"/></g><rect x="30" y="689.0" width="40" height="40" fill="#767263"/><g transform="translate(50.0 709.0)" fill="#848481" stroke="none"><path d="M-3.5,11 V-10.5 L1,-13 L6.5,-10.5 V11Z"/><rect x="-11.4" y="-5" width="7" height="16"/><path d="M4,2.5 L8.3,-1.5 L11,1 V11 H4Z"/><rect x="-11.8" y="10.6" width="22.6" height="1.8"/><path d="M-2,-8 H5 M-2,-5 H5 M-2,-2 H5 M-2,1 H5 M-2,4 H5 M-10,-2 H-5.5 M-10,1 H-5.5 M-10,4 H-5.5 M-10,7 H-5.5" stroke="#767263" stroke-width=".8"/></g><rect x="30" y="795.2" width="40" height="40" fill="#767263"/><g transform="translate(50.0 815.2)" fill="#848481" stroke="none"><path d="M-6.6,-6.2 Q-1,2.5 -1,6.8 Q-1,12.3 -6.6,12.3 Q-12.1,12.3 -12.1,6.8 Q-12.1,2.5 -6.6,-6.2Z"/><circle cx="5.6" cy="-7.3" r="5.6"/><circle cx="5.6" cy="-7.3" r="3.6" fill="none" stroke="#767263" stroke-width=".9"/><rect x="-0.3" y="-1.8" width="12.6" height="2.5" rx="1.2"/><rect x="-0.3" y="1.5" width="12.6" height="2.5" rx="1.2"/><rect x="-0.3" y="4.8" width="12.6" height="2.5" rx="1.2"/><rect x="-0.3" y="8.1" width="12.6" height="2.5" rx="1.2"/></g><rect x="30" y="901.4" width="40" height="40" fill="#767263"/><g transform="translate(50.0 921.4)" fill="#848481" stroke="none"><path d="M-13.9,-6.2 L-0.4,-14 L13,-6.2 V-4.6 H-13.9Z"/><rect x="-10.6" y="-3.4" width="3.2" height="11.4"/><rect x="-4.6" y="-3.4" width="3.2" height="11.4"/><rect x="1.4" y="-3.4" width="3.2" height="11.4"/><rect x="7.4" y="-3.4" width="3.2" height="11.4"/><rect x="-12" y="8.2" width="23.2" height="1.9"/><rect x="-13.9" y="10.7" width="27" height="1.9"/></g><rect x="30" y="1007.6" width="40" height="40" fill="#767263"/><g transform="translate(50.0 1027.6)" fill="#848481" stroke="none"><rect x="-13.1" y="-13.3" width="4.8" height="22" rx="1.6"/><path d="M-13.1,4 Q-13.1,9 -8,9 H13.1 V12.6 H-9 Q-13.1,12.6 -13.1,8Z"/><path d="M-7,-6.2 H13.1 V9.5 H-7Z" opacity=".92"/><path d="M-4.5,-2 H5 M-2,2.2 H7 M-2,5.8 H7 M2.5,2.2 V8" stroke="#767263" stroke-width=".9" fill="none"/><path d="M4.5,-6.5 L11,-13 L13,-11.2 L6.8,-4.6Z"/></g><rect x="1017" y="63" width="36" height="35" fill="#6f6c2d"/><path transform="translate(1035.00 80.50)" fill="#050505" d="M0,-7.00 Q0.98,-0.98 7.00,0 Q0.98,0.98 0,7.00 Q-0.98,0.98 -7.00,0 Q-0.98,-0.98 0,-7.00Z"/><rect x="1017" y="102" width="36" height="5.3" fill="#00008e"/><rect x="1072" y="63" width="36" height="35" fill="#3e6b20"/><path d="M1086.5,82 Q1086,87.5 1091,87.5 Q1096.5,87.5 1096,82 V75.5" fill="none" stroke="#a9b3a0" stroke-width="2.2" stroke-linecap="round"/><path d="M1089.5,80.5 l2.6,-2.6 l1.4,2.6" fill="none" stroke="#a9b3a0" stroke-width="1.3"/><rect x="1128" y="63" width="35" height="35" fill="#3b2615"/><path d="M1137.5,76.5 q1.5,-1 2.5,1 l1,2 q3,-2 7,-1.5 q0.5,-3.5 4,-4 q3,0.5 3,3.5 q-0.5,2.5 -2.5,3 l-0.5,5.5 h-2 l-0.3,-4 l-4.5,0.3 l-0.4,3.7 h-2 l-0.3,-4.5 q-2,-1 -2.5,-3.5 q-1,-1.5 -2.5,-1.5z" fill="#a9a9a6"/><rect x="1653" y="17.5" width="238" height="90.5" rx="6" fill="#413d35" stroke="#2f2c26" stroke-width="1.6"/><rect x="1699.8" y="73" width="5" height="22.3" fill="#8a8672"/><rect x="1708.6" y="73" width="5" height="22.3" fill="#8a8672"/><path d="M1767,74.5 L1776,84.2 L1767,94" fill="none" stroke="#5b5a47" stroke-width="3.6"/><path d="M1828,74.5 L1837,84.2 L1828,94 M1837.2,74.5 L1846.2,84.2 L1837.2,94" fill="none" stroke="#5b5a47" stroke-width="3.6"/><circle cx="433.75" cy="142.5" r="8.75" fill="#8b0000"/><rect x="147" y="177.8" width="84.3" height="1" fill="#4a493e"/><rect x="640" y="177.8" width="81" height="1" fill="#4a493e"/><rect x="556.3" y="209.2" width="167.7" height="29.6" fill="#8b0000"/><rect x="559.4" y="250.4" width="164" height="264.5" rx="5" fill="#8a896f" stroke="#6c6b58" stroke-width="1.5"/><path d="M626,301.6 L626.3,296.2 Q626.8,294.3 632.4,290.6 L635,283.5 L636.5,276.4 L637.6,270.6 Q638,267.6 640.5,266 Q646,263.6 654,264.6 Q660,265.4 662,268 L664,301.6 Z" fill="#423e36"/><path d="M639.6,274.4 Q647,273.6 662,274.4 V281.5 Q656,286 650,286 Q643.5,285.6 639.9,282 Z" fill="#8a896f"/><path d="M640.6,281.8 Q646,284 652,283 Q657,282 661,279.5 V290 H641 Z" fill="#423e36"/><ellipse cx="648.5" cy="267.3" rx="8.6" ry="1.7" fill="none" stroke="#8a896f" stroke-width="1"/><path d="M640.8,286.5 Q646,291.5 654,289.6 M631.5,293.5 L636.5,296.8 L642,297.6 M648,297.6 H654 M632.5,297.5 V301" fill="none" stroke="#8a896f" stroke-width=".9"/><rect x="580.3" y="351.3" width="123" height="20.4" fill="#1a2f7a"/><rect x="144" y="666.8" width="580" height="17.7" fill="#3b372e"/><rect x="144" y="754.5" width="580" height="17.3" fill="#939274"/><rect x="144" y="754.5" width="188" height="17.3" fill="#3b372e"/><rect x="331.2" y="750.8" width="21.8" height="23" fill="#403c33"/><circle cx="221.25" cy="617.5" r="6.8" fill="#0a0a0a"/><path d="M222.6,613.2 L220,621.8" stroke="#9a9988" stroke-width="1.6"/><rect x="248.00" y="790.00" width="26.25" height="6.30" fill="#17602a"/><rect x="248.00" y="796.00" width="26.25" height="6.30" fill="#a2a2a2"/><rect x="248.00" y="802.00" width="26.25" height="6.30" fill="#0c0c0c"/><rect x="248.00" y="790" width="9" height="18" fill="#8c0d1c"/><rect x="285.00" y="790.00" width="26.25" height="6.30" fill="#0c0c0c"/><rect x="285.00" y="796.00" width="26.25" height="6.30" fill="#a2a2a2"/><rect x="285.00" y="802.00" width="26.25" height="6.30" fill="#17602a"/><polygon points="285.00,790 298.00,799 285.00,808" fill="#8c0d1c"/><rect x="322.00" y="790.00" width="26.25" height="6.30" fill="#a2a2a2"/><rect x="322.00" y="796.00" width="26.25" height="6.30" fill="#8c0d1c"/><rect x="322.00" y="802.00" width="26.25" height="6.30" fill="#17602a"/><rect x="322.00" y="790" width="9" height="18" fill="#8c0d1c"/><path d="M325.00,792 l3,3 m0,-3 l-3,3" stroke="#b08a8a" stroke-width=".8"/><rect x="359.00" y="790.00" width="26.25" height="6.30" fill="#8c0d1c"/><rect x="359.00" y="796.00" width="26.25" height="6.30" fill="#a2a2a2"/><rect x="359.00" y="802.00" width="26.25" height="6.30" fill="#0c0c0c"/><circle cx="368.00" cy="799" r="1.2" fill="#17602a"/><circle cx="376.50" cy="799" r="1.2" fill="#17602a"/><rect x="396.00" y="790.00" width="26.25" height="6.30" fill="#8c0d1c"/><rect x="396.00" y="796.00" width="26.25" height="6.30" fill="#a2a2a2"/><rect x="396.00" y="802.00" width="26.25" height="6.30" fill="#0c0c0c"/><rect x="433.00" y="790.00" width="26.25" height="18.00" fill="#8c0d1c"/><circle cx="443.37" cy="799.00" r="4.72" fill="#a2a2a2"/><circle cx="444.64" cy="799.00" r="3.77" fill="#8c0d1c"/><polygon points="447.34,799.00 448.70,798.49 448.77,797.03 449.67,798.17 451.08,797.78 450.28,799.00 451.08,800.22 449.67,799.83 448.77,800.97 448.70,799.51" fill="#a2a2a2"/><rect x="470.00" y="790" width="26.25" height="18" fill="#0f5527"/><rect x="476.50" y="794.5" width="13" height="3.2" fill="#7f9a86"/><rect x="478.50" y="802.0" width="9" height="1" fill="#7f9a86"/><rect x="507.00" y="790" width="26.25" height="18" fill="#a2a2a2"/><rect x="507.00" y="790" width="26.25" height="4.5" fill="#8c0d1c"/><rect x="507.00" y="803.5" width="26.25" height="4.5" fill="#8c0d1c"/><polygon points="520.10,795.0 523.50,802.5 516.70,802.5" fill="#17602a"/><rect x="544.00" y="790.00" width="26.25" height="6.30" fill="#17602a"/><rect x="544.00" y="796.00" width="26.25" height="6.30" fill="#a2a2a2"/><rect x="544.00" y="802.00" width="26.25" height="6.30" fill="#8c0d1c"/><rect x="581.00" y="790.00" width="26.25" height="6.30" fill="#8c0d1c"/><rect x="581.00" y="796.00" width="26.25" height="6.30" fill="#a2a2a2"/><rect x="581.00" y="802.00" width="26.25" height="6.30" fill="#0c0c0c"/><rect x="590.00" y="798.2" width="8" height="1.6" fill="#17602a"/><rect x="147.2" y="821.2" width="564.2" height="189.4" rx="5" fill="#8a886c" stroke="#6c6b58" stroke-width="1.5"/><rect x="169.00" y="834.20" width="38.00" height="25.30" fill="#8c0a16"/><circle cx="184.01" cy="846.85" r="6.63" fill="#a3a3a0"/><circle cx="185.80" cy="846.85" r="5.30" fill="#8c0a16"/><polygon points="189.84,846.85 191.76,846.13 191.85,844.08 193.13,845.69 195.10,845.14 193.97,846.85 195.10,848.56 193.13,848.01 191.85,849.62 191.76,847.57" fill="#a3a3a0"/><rect x="168" y="927.5" width="500.4" height="1.1" fill="#1e1e1a"/><path d="M395,1033.5 L385.5,1042 L395,1050.5" fill="none" stroke="#403c33" stroke-width="3"/><path d="M473.8,1033.5 L483.3,1042 L473.8,1050.5" fill="none" stroke="#403c33" stroke-width="3"/><rect x="808.4" y="1005" width="250.3" height="40" fill="#3b372e"/><path d="M1035.6,1029.5 L1042.3,1022 L1049,1029.5" fill="none" stroke="#a9a89f" stroke-width="2.6"/><rect x="1087" y="1012" width="43.5" height="26.6" rx="3" fill="#a7a381"/><path d="M1088,1013 L1108.7,1028 L1129.5,1013 M1088,1038 L1103,1024 M1129.5,1038 L1114.5,1024" fill="none" stroke="#8d8a6e" stroke-width="1.2"/><rect x="1106.5" y="1028.7" width="24.1" height="15.5" fill="#690f26"/><path d="M1106.5,1028.7 H1113 l2.2,1.3 l-2.2,1.3 l2.2,1.3 l-2.2,1.3 l2.2,1.3 l-2.2,1.3 l2.2,1.3 l-2.2,1.3 l2.2,1.3 l-2.2,1.3 l2.2,1.3 l-2.2,1.2 H1106.5Z" fill="#b9b9b9"/><rect x="1717.2" y="1005" width="39.7" height="39.7" fill="#3e3a2f"/><rect x="1779.2" y="1005" width="39.7" height="39.7" fill="#3e3a2f"/><rect x="1841.1" y="1005" width="39.7" height="39.7" fill="#3e3a2f"/><rect x="1724" y="1016" width="19.5" height="15" rx="1" fill="#8f8f8f"/><path d="M1724.5,1016.5 L1733.7,1024 L1743,1016.5" fill="none" stroke="#3e3a2f" stroke-width="1"/><circle cx="1743.5" cy="1029" r="5" fill="#8f8f8f" stroke="#3e3a2f" stroke-width="1"/><circle cx="1743.5" cy="1029" r="1.8" fill="#3e3a2f"/><circle cx="1798.5" cy="1017.5" r="5.2" fill="#8f8f8f"/><path d="M1789.5,1031 q0,-8 9,-8 q9,0 9,8 q0,2 -2,2 h-14 q-2,0 -2,-2z" fill="#8f8f8f"/><circle cx="1798.5" cy="1032.5" r="5" fill="#8f8f8f" stroke="#3e3a2f" stroke-width="1"/><path d="M1798.5,1029.5 v6" stroke="#3e3a2f" stroke-width="1"/><circle cx="1861" cy="1025.5" r="12.5" fill="#8f8f8f"/><path d="M1851,1020 q3,-4 7,-5 l1,3 l-3,2 l1,3 l-3,1z M1856,1026 l5,1 l2,3 l-3,4 l-2,3 l-2,-5z M1865,1018 l4,-1 l3,4 l-1,5 l-3,1 l-2,-4z" fill="#3e3a2f"/></svg><span class="t" id="t0" style="left:98.75px;top:34.64px;font-size:17.60px;color:#8a8881;letter-spacing:-0.250px;transform:scaleX(0.9113);">Cash</span>
<span class="t" id="t1" style="left:98.75px;top:72.90px;font-size:18.00px;color:#8e8c86;font-weight:700;letter-spacing:-0.250px;transform:scaleX(0.9063);">6 M</span>
<span class="t" id="t2" style="left:130.50px;top:72.90px;font-size:18.00px;color:#4a9b4a;font-weight:700;letter-spacing:-0.250px;transform:scaleX(0.9330);">+806 K $</span>
<span class="t" id="t3" style="left:281.25px;top:34.64px;font-size:17.60px;color:#8a8881;letter-spacing:-0.250px;transform:scaleX(0.9309);">Assets</span>
<span class="t" id="t4" style="left:281.25px;top:72.90px;font-size:18.00px;color:#8e8c86;font-weight:700;letter-spacing:-0.250px;transform:scaleX(0.9560);text-decoration:underline;text-underline-offset:2px;text-decoration-thickness:1px;">741 M $</span>
<span class="t" id="t5" style="left:465.00px;top:34.64px;font-size:17.60px;color:#8a8881;letter-spacing:0.013px;">Liabilities</span>
<span class="t" id="t6" style="left:465.00px;top:72.90px;font-size:18.00px;color:#8e8c86;font-weight:700;letter-spacing:-0.250px;transform:scaleX(0.8922);">0 K $</span>
<span class="t" id="t7" style="left:648.25px;top:34.64px;font-size:17.60px;color:#8a8881;letter-spacing:0.025px;">Net worth</span>
<span class="t" id="t8" style="left:648.25px;top:72.90px;font-size:18.00px;color:#8e8c86;font-weight:700;letter-spacing:-0.250px;transform:scaleX(0.9521);">747 M $</span>
<span class="t" id="t9" style="left:831.25px;top:34.64px;font-size:17.60px;color:#8a8881;letter-spacing:-0.250px;transform:scaleX(0.9772);">Variation YTD</span>
<span class="t" id="t10" style="left:831.25px;top:72.90px;font-size:18.00px;color:#4a9b4a;font-weight:700;letter-spacing:-0.199px;">+6.7%</span>
<span class="t" id="t11" style="left:1018.40px;top:34.64px;font-size:17.60px;color:#8a8881;letter-spacing:-0.250px;transform:scaleX(0.9866);">Last seen companies</span>
<span class="t" id="t12" style="left:1690.30px;top:35.90px;font-size:18.00px;color:#8f8f8f;letter-spacing:0.676px;">31 JANUARY 1963</span>
<span class="t" id="t13" style="left:800.10px;top:138.11px;font-size:15.40px;color:#262626;letter-spacing:-0.250px;transform:scaleX(0.9234);-webkit-text-stroke:0.45px;">RICL 14,87</span>
<span class="t" id="t14" style="left:873.60px;top:138.11px;font-size:15.40px;color:#1f7a2b;letter-spacing:-0.250px;transform:scaleX(0.9549);-webkit-text-stroke:0.45px;">0,10</span>
<span class="t" id="t15" style="left:964.00px;top:138.11px;font-size:15.40px;color:#262626;letter-spacing:-0.250px;transform:scaleX(0.9331);-webkit-text-stroke:0.45px;">JAQ 23,42</span>
<span class="t" id="t16" style="left:1034.40px;top:138.11px;font-size:15.40px;color:#9a2020;letter-spacing:-0.250px;transform:scaleX(0.9591);-webkit-text-stroke:0.45px;">-1,00</span>
<span class="t" id="t17" style="left:1122.60px;top:138.11px;font-size:15.40px;color:#262626;letter-spacing:-0.250px;transform:scaleX(0.9362);-webkit-text-stroke:0.45px;">ABDH 28,94</span>
<span class="t" id="t18" style="left:1204.80px;top:138.11px;font-size:15.40px;color:#9a2020;letter-spacing:-0.250px;transform:scaleX(0.9591);-webkit-text-stroke:0.45px;">-0,26</span>
<span class="t" id="t19" style="left:1295.00px;top:138.11px;font-size:15.40px;color:#262626;letter-spacing:-0.250px;transform:scaleX(0.9282);-webkit-text-stroke:0.45px;">SHCL 3,86</span>
<span class="t" id="t20" style="left:1366.00px;top:138.11px;font-size:15.40px;color:#1f7a2b;letter-spacing:-0.250px;transform:scaleX(0.9754);-webkit-text-stroke:0.45px;">0,05</span>
<span class="t" id="t21" style="left:1455.50px;top:138.11px;font-size:15.40px;color:#262626;letter-spacing:-0.250px;transform:scaleX(0.9587);-webkit-text-stroke:0.45px;">THA1 11,14</span>
<span class="t" id="t22" style="left:1535.00px;top:138.11px;font-size:15.40px;color:#1f7a2b;letter-spacing:-0.250px;transform:scaleX(0.9583);-webkit-text-stroke:0.45px;">0,10</span>
<span class="t" id="t23" style="left:1622.00px;top:138.11px;font-size:15.40px;color:#262626;letter-spacing:-0.250px;transform:scaleX(0.9523);-webkit-text-stroke:0.45px;">IZPR 15,47</span>
<span class="t" id="t24" style="left:1697.50px;top:138.11px;font-size:15.40px;color:#1f7a2b;letter-spacing:-0.250px;transform:scaleX(0.9583);-webkit-text-stroke:0.45px;">0,52</span>
<span class="t" id="t25" style="left:1787.00px;top:138.11px;font-size:15.40px;color:#262626;letter-spacing:-0.250px;transform:scaleX(0.9456);-webkit-text-stroke:0.45px;">IZPR 15,47</span>
<span class="t" id="t26" style="left:1862.00px;top:138.11px;font-size:15.40px;color:#1f7a2b;letter-spacing:-0.250px;transform:scaleX(0.9583);-webkit-text-stroke:0.45px;">0,52</span>
<span class="t" id="t27" style="left:147.00px;top:165.82px;font-size:11.50px;color:#3c3b31;">←</span>
<span class="t" id="t28" style="left:163.50px;top:163.16px;font-size:15.40px;color:#2a2a24;letter-spacing:0.516px;-webkit-text-stroke:0.35px;">Overview</span>
<span class="t" id="t29" style="left:384.50px;top:161.81px;font-size:16.40px;color:#4a493f;letter-spacing:0.259px;font-style:italic;">Management</span>
<span class="t" id="t30" style="left:640.40px;top:163.16px;font-size:15.40px;color:#2a2a24;letter-spacing:0.376px;-webkit-text-stroke:0.35px;">Financial</span>
<span class="t" id="t31" style="left:711.80px;top:165.82px;font-size:11.50px;color:#3c3b31;">→</span>
<span class="t" id="t32" style="left:144.50px;top:234.41px;font-size:15.40px;color:#454438;letter-spacing:0.017px;">Market share</span>
<span class="t" id="t33" style="left:327.50px;top:234.41px;font-size:15.40px;color:#1f1f1b;letter-spacing:0.802px;-webkit-text-stroke:0.35px;">4.9%</span>
<span class="t" id="t34" style="left:144.50px;top:276.91px;font-size:15.40px;color:#454438;letter-spacing:-0.168px;text-decoration:underline;text-underline-offset:2px;text-decoration-thickness:1px;text-decoration-skip-ink:none;text-decoration-color:rgba(50,50,40,.55);">Segment market share</span>
<span class="t" id="t35" style="left:327.50px;top:276.91px;font-size:15.40px;color:#1f1f1b;letter-spacing:0.840px;-webkit-text-stroke:0.35px;">13.2%</span>
<span class="t" id="t36" style="left:144.50px;top:319.41px;font-size:15.40px;color:#454438;letter-spacing:0.151px;">Brand Strength</span>
<span class="t" id="t37" style="left:327.50px;top:319.41px;font-size:15.40px;color:#1f1f1b;letter-spacing:0.844px;-webkit-text-stroke:0.35px;">40%</span>
<span class="t" id="t38" style="left:365.50px;top:319.41px;font-size:15.40px;color:#2c7a2c;letter-spacing:1.221px;-webkit-text-stroke:0.35px;">+1%/year</span>
<span class="t" id="t39" style="left:144.50px;top:361.91px;font-size:15.40px;color:#454438;letter-spacing:-0.250px;transform:scaleX(0.9940);">Revenue</span>
<span class="t" id="t40" style="left:327.50px;top:361.91px;font-size:15.40px;color:#1f1f1b;letter-spacing:0.312px;-webkit-text-stroke:0.35px;">419 M $</span>
<span class="t" id="t41" style="left:144.50px;top:404.41px;font-size:15.40px;color:#454438;letter-spacing:-0.059px;">Margin</span>
<span class="t" id="t42" style="left:327.50px;top:404.41px;font-size:15.40px;color:#1f1f1b;letter-spacing:0.840px;-webkit-text-stroke:0.35px;">13.0%</span>
<span class="t" id="t43" style="left:144.50px;top:446.91px;font-size:15.40px;color:#454438;letter-spacing:0.128px;text-decoration:underline;text-underline-offset:2px;text-decoration-thickness:1px;text-decoration-skip-ink:none;text-decoration-color:rgba(50,50,40,.55);">Efficiency</span>
<span class="t" id="t44" style="left:327.50px;top:446.91px;font-size:15.40px;color:#1f1f1b;letter-spacing:0.844px;-webkit-text-stroke:0.35px;">37%</span>
<span class="t" id="t45" style="left:365.50px;top:446.91px;font-size:15.40px;color:#9b1c1c;letter-spacing:1.415px;-webkit-text-stroke:0.35px;">-1%/year</span>
<span class="t" id="t46" style="left:144.50px;top:489.41px;font-size:15.40px;color:#454438;letter-spacing:-0.250px;transform:scaleX(0.9680);text-decoration:underline;text-underline-offset:2px;text-decoration-thickness:1px;text-decoration-skip-ink:none;text-decoration-color:rgba(50,50,40,.55);">Assets</span>
<span class="t" id="t47" style="left:327.50px;top:489.41px;font-size:15.40px;color:#1f1f1b;letter-spacing:0.312px;-webkit-text-stroke:0.35px;">546 M $</span>
<span class="t" id="t48" style="left:392.00px;top:489.41px;font-size:15.40px;color:#2c7a2c;letter-spacing:0.885px;-webkit-text-stroke:0.35px;">+12 M $/year</span>
<span class="t" id="t49" style="left:144.50px;top:531.91px;font-size:15.40px;color:#454438;letter-spacing:0.234px;text-decoration:underline;text-underline-offset:2px;text-decoration-thickness:1px;text-decoration-skip-ink:none;text-decoration-color:rgba(50,50,40,.55);">Unit cost</span>
<span class="t" id="t50" style="left:327.50px;top:531.91px;font-size:15.40px;color:#1f1f1b;letter-spacing:0.578px;-webkit-text-stroke:0.35px;">1,34 $ (</span>
<span class="t" id="t51" style="left:385.00px;top:531.91px;font-size:15.40px;color:#9b1c1c;letter-spacing:0.734px;-webkit-text-stroke:0.35px;">+10%</span>
<span class="t" id="t52" style="left:428.75px;top:531.91px;font-size:15.40px;color:#1f1f1b;letter-spacing:0.717px;-webkit-text-stroke:0.35px;">) - Average: 1,26 $</span>
<span class="t" id="t53" style="left:144.50px;top:574.41px;font-size:15.40px;color:#454438;letter-spacing:0.276px;text-decoration:underline;text-underline-offset:2px;text-decoration-thickness:1px;text-decoration-skip-ink:none;text-decoration-color:rgba(50,50,40,.55);">Unit price</span>
<span class="t" id="t54" style="left:327.50px;top:574.41px;font-size:15.40px;color:#1f1f1b;letter-spacing:0.749px;-webkit-text-stroke:0.35px;">1,86 $ - Average: 1,82 $</span>
<span class="t" id="t55" style="left:144.50px;top:630.66px;font-size:15.40px;color:#454438;letter-spacing:0.307px;">Quality</span>
<span class="t" id="t56" style="left:338.75px;top:630.66px;font-size:15.40px;color:#1f1f1b;letter-spacing:1.100px;-webkit-text-stroke:0.35px;">Excellent</span>
<span class="t" id="t57" style="left:144.50px;top:717.41px;font-size:15.40px;color:#454438;letter-spacing:0.020px;">R&amp;D expenditure</span>
<span class="t" id="t58" style="left:338.00px;top:717.41px;font-size:15.40px;color:#1f1f1b;letter-spacing:0.250px;-webkit-text-stroke:0.35px;">4%</span>
<span class="t" id="t59" style="left:592.50px;top:218.15px;font-size:14.30px;color:#b3aaa2;font-weight:700;letter-spacing:-0.250px;transform:scaleX(0.9771);">AUTOPILOT</span>
<span class="t" id="t60" style="left:568.00px;top:261.82px;font-size:13.50px;color:#2e2d26;letter-spacing:0.676px;text-decoration:underline;text-underline-offset:2px;text-decoration-thickness:1px;text-decoration-skip-ink:none;text-decoration-color:rgba(50,50,40,.55);">08/67</span>
<span class="t" id="t61" style="left:607.20px;top:322.35px;font-size:14.30px;color:#454438;letter-spacing:-0.250px;transform:scaleX(0.9263);">O. Al-Rashid</span>
<span class="t" id="t62" style="left:603.30px;top:356.77px;font-size:12.50px;color:#9a9cb0;font-weight:700;letter-spacing:-0.250px;transform:scaleX(0.9030);">CONSERVATIVE</span>
<span class="t" id="t63" style="left:580.90px;top:394.22px;font-size:13.50px;color:#454438;letter-spacing:-0.022px;">Wage</span>
<span class="t" id="t64" style="left:580.90px;top:424.12px;font-size:13.50px;color:#454438;letter-spacing:0.505px;text-decoration:underline;text-underline-offset:2px;text-decoration-thickness:1px;text-decoration-skip-ink:none;text-decoration-color:rgba(50,50,40,.55);">Bonus</span>
<span class="t" id="t65" style="left:580.90px;top:454.02px;font-size:13.50px;color:#454438;letter-spacing:0.442px;">Brand</span>
<span class="t" id="t66" style="left:580.90px;top:483.92px;font-size:13.50px;color:#454438;letter-spacing:0.430px;">Efficiency</span>
<span class="t" id="t67" style="left:222.50px;top:839.59px;font-size:14.60px;color:#1f1f1b;letter-spacing:0.537px;-webkit-text-stroke:0.25px;">Turkey</span>
<span class="t" id="t68" style="left:222.50px;top:863.45px;font-size:13.00px;color:#454438;letter-spacing:-0.250px;transform:scaleX(0.9806);">Market share:</span>
<span class="t" id="t69" style="left:301.25px;top:863.45px;font-size:13.00px;color:#1c1c18;font-weight:700;letter-spacing:-0.031px;">13.0%</span>
<span class="t" id="t70" style="left:168.50px;top:887.51px;font-size:15.40px;color:#454438;letter-spacing:-0.250px;transform:scaleX(0.9300);">Revenue</span>
<span class="t" id="t71" style="left:168.50px;top:906.61px;font-size:15.40px;color:#1c1c18;letter-spacing:-0.250px;transform:scaleX(0.9744);-webkit-text-stroke:0.3px;">Revenue:</span>
<span class="t" id="t72" style="left:234.70px;top:906.61px;font-size:15.40px;color:#1c1c18;font-weight:700;letter-spacing:-0.152px;">58 M $</span>
<span class="t" id="t73" style="left:168.50px;top:941.85px;font-size:14.30px;color:#454438;letter-spacing:-0.069px;">Price:</span>
<span class="t" id="t74" style="left:208.40px;top:941.85px;font-size:14.30px;color:#1c1c18;font-weight:700;letter-spacing:0.490px;">2,07 $</span>
<span class="t" id="t75" style="left:329.00px;top:941.85px;font-size:14.30px;color:#454438;letter-spacing:-0.250px;transform:scaleX(0.9694);">Assets:</span>
<span class="t" id="t76" style="left:377.20px;top:941.85px;font-size:14.30px;color:#1c1c18;font-weight:700;letter-spacing:0.256px;">58 M $</span>
<span class="t" id="t77" style="left:510.10px;top:942.05px;font-size:14.30px;color:#454438;letter-spacing:0.225px;">Brand Strength:</span>
<span class="t" id="t78" style="left:616.90px;top:942.05px;font-size:14.30px;color:#1c1c18;font-weight:700;letter-spacing:-0.106px;">45</span>
<span class="t" id="t79" style="left:168.50px;top:971.35px;font-size:14.30px;color:#454438;letter-spacing:0.141px;">Markup:</span>
<span class="t" id="t80" style="left:225.30px;top:971.35px;font-size:14.30px;color:#1c1c18;font-weight:700;letter-spacing:0.638px;">70.0%</span>
<span class="t" id="t81" style="left:329.00px;top:971.35px;font-size:14.30px;color:#454438;letter-spacing:0.079px;">Assets expenditure:</span>
<span class="t" id="t82" style="left:459.70px;top:971.35px;font-size:14.30px;color:#1c1c18;font-weight:700;letter-spacing:0.528px;">3%</span>
<span class="t" id="t83" style="left:510.10px;top:972.15px;font-size:13.00px;color:#454438;letter-spacing:0.460px;">Marketing expenditure:</span>
<span class="t" id="t84" style="left:655.60px;top:972.15px;font-size:13.00px;color:#1c1c18;font-weight:700;letter-spacing:1.103px;">4%</span>
<span class="t" id="t85" style="left:430.60px;top:1035.30px;font-size:14.00px;color:#2a2a24;">6</span>
<span class="t" id="t86" style="left:816.80px;top:1018.41px;font-size:15.40px;color:#9a988c;font-weight:700;letter-spacing:-0.250px;transform:scaleX(0.9034);">World News</span><div class="a" style="left:653px;top:204px;width:615px;height:674px;background:#fdfbd7;border-radius:5px"></div><svg width="1920" height="1080" viewBox="0 0 1920 1080" style="position:absolute;left:0;top:0"><rect x="685.3" y="230.2" width="42" height="42.8" fill="#c0c250"/><path transform="translate(706.40 251.80)" fill="#060606" d="M0,-8.80 Q1.06,-1.06 8.80,0 Q1.06,1.06 0,8.80 Q-1.06,1.06 -8.80,0 Q-1.06,-1.06 0,-8.80Z"/><rect x="740.50" y="235.80" width="47.00" height="31.20" fill="#e30a17"/><circle cx="759.07" cy="251.40" r="8.17" fill="#ffffff"/><circle cx="761.27" cy="251.40" r="6.54" fill="#e30a17"/><polygon points="766.29,251.40 768.66,250.51 768.77,247.99 770.34,249.97 772.78,249.29 771.38,251.40 772.78,253.51 770.34,252.83 768.77,254.81 768.66,252.29" fill="#ffffff"/><circle cx="1243.5" cy="224.5" r="8.6" fill="#ff0000"/><rect x="685" y="326.3" width="270" height="38.7" fill="#837c6b"/><rect x="954.5" y="326.3" width="270.5" height="38.7" fill="#6b675a"/><path fill="#c0483e" d="M806.50,402.00 A82.5,82.5 0 0 1 869.40,431.12 L840.81,455.38 A45.0,45.0 0 0 0 806.50,439.50 Z"/><path fill="#bfc24c" d="M869.40,431.12 A82.5,82.5 0 0 1 888.47,493.81 L851.21,489.58 A45.0,45.0 0 0 0 840.81,455.38 Z"/><path fill="#a05c5a" d="M888.47,493.81 A82.5,82.5 0 0 1 857.47,549.37 L834.30,519.88 A45.0,45.0 0 0 0 851.21,489.58 Z"/><path fill="#3462b0" d="M857.47,549.37 A82.5,82.5 0 0 1 798.74,566.63 L802.27,529.30 A45.0,45.0 0 0 0 834.30,519.88 Z"/><path fill="#ac40a6" d="M798.74,566.63 A82.5,82.5 0 0 1 747.44,542.10 L774.28,515.92 A45.0,45.0 0 0 0 802.27,529.30 Z"/><path fill="#d8d8d8" d="M747.44,542.10 A82.5,82.5 0 0 1 806.50,402.00 L806.50,439.50 A45.0,45.0 0 0 0 774.28,515.92 Z"/><rect x="952.5" y="385.50" width="15" height="14.5" fill="#c0483e"/><rect x="952.5" y="413.50" width="15" height="14.5" fill="#bfc24c"/><rect x="952.5" y="441.50" width="15" height="14.5" fill="#a05c5a"/><rect x="952.5" y="469.50" width="15" height="14.5" fill="#3462b0"/><rect x="952.5" y="497.50" width="15" height="14.5" fill="#ac40a6"/><rect x="952.5" y="525.50" width="15" height="14.5" fill="#d8d8d8"/><rect x="685.3" y="603" width="550.7" height="209.5" fill="#f6f2c8"/><rect x="685.3" y="636.25" width="550.7" height="1.5" fill="#3a3a30"/><rect x="685.3" y="671.25" width="550.7" height="1.5" fill="#3a3a30"/><rect x="685.3" y="706.25" width="550.7" height="1.5" fill="#3a3a30"/><rect x="685.3" y="741.25" width="550.7" height="1.5" fill="#3a3a30"/><rect x="685.3" y="776.55" width="550.7" height="1.5" fill="#3a3a30"/><rect x="685.3" y="811.55" width="550.7" height="1.5" fill="#3a3a30"/><rect x="694.3" y="643.0" width="25.2" height="24.8" fill="#c4453f"/><path d="M705.00,653.30 A3.3,3.3 0 1 0 708.80,653.30" fill="none" stroke="#f6ebe8" stroke-width="1.9"/><path d="M706.30,652.80 l1.5,-2.4" stroke="#f6ebe8" stroke-width="1.5"/><rect x="694.3" y="678.0" width="25.2" height="24.8" fill="#bfc24c"/><path transform="translate(706.90 690.60)" fill="#060606" d="M0,-4.70 Q0.80,-0.80 4.70,0 Q0.80,0.80 0,4.70 Q-0.80,0.80 -4.70,0 Q-0.80,-0.80 0,-4.70Z"/><rect x="694.3" y="713.0" width="25.2" height="24.8" fill="#a05c5a"/><path d="M706.10,726.80 q-2.2,0.6 -3.6,-0.9 q-1.6,-2 0,-4 q0.6,-2.4 3.4,-2.6 q2,-0.9 4,0.2 q2.6,0.4 3,3 q1,2.2 -0.8,3.8 q-1.4,1.2 -3.2,0.6 v3.4 h-1.8z" fill="#f8f1f0"/><rect x="694.3" y="748.0" width="25.2" height="24.8" fill="#3462b0"/><circle cx="706.00" cy="761.30" r="6" fill="#fff"/><circle cx="708.60" cy="759.40" r="5.1" fill="#3462b0"/><polygon points="709.80,754.80 710.51,756.73 712.56,756.80 710.94,758.07 711.50,760.05 709.80,758.90 708.10,760.05 708.66,758.07 707.04,756.80 709.09,756.73" fill="#fff"/><rect x="694.3" y="783.0" width="25.2" height="24.8" fill="#ac40a6"/><path d="M701.60,790.00 h8.2 l2,1.6 v8.6 h-8 l-2.2,-1.2z" fill="#fbf3fa"/><rect x="705.00" y="792.30" width="3.3" height="6" fill="#ac40a6"/></svg><span class="t" id="t87" style="left:813.00px;top:245.35px;font-size:15.70px;color:#24241f;letter-spacing:1.325px;-webkit-text-stroke:0.45px;">Turkey</span>
<span class="t" id="t88" style="left:685.75px;top:291.20px;font-size:16.00px;color:#7b7a6c;letter-spacing:-0.250px;transform:scaleX(0.9553);">Revenue</span>
<span class="t" id="t89" style="left:813.00px;top:291.20px;font-size:16.00px;color:#24241f;letter-spacing:-0.134px;-webkit-text-stroke:0.45px;">58 M $</span>
<span class="t" id="t90" style="left:986.25px;top:291.20px;font-size:16.00px;color:#7b7a6c;">Branch profit</span>
<span class="t" id="t91" style="left:1113.00px;top:291.20px;font-size:16.00px;color:#24241f;letter-spacing:0.016px;-webkit-text-stroke:0.45px;">20 M $</span>
<span class="t" id="t92" style="left:791.25px;top:340.36px;font-size:15.70px;color:#e9e7de;letter-spacing:-0.027px;-webkit-text-stroke:0.4px;">Strategy</span>
<span class="t" id="t93" style="left:1045.75px;top:340.36px;font-size:15.70px;color:#e9e7de;letter-spacing:0.367px;-webkit-text-stroke:0.4px;">Competitors</span>
<span class="t" id="t94" style="left:977.50px;top:386.25px;font-size:15.00px;color:#7f7e70;letter-spacing:0.299px;">al-Attar Weaving</span>
<span class="t" id="t95" style="left:1097.00px;top:386.25px;font-size:15.00px;color:#2b2b25;letter-spacing:0.938px;-webkit-text-stroke:0.3px;">13,8%</span>
<span class="t" id="t96" style="left:977.50px;top:414.25px;font-size:15.00px;color:#7f7e70;letter-spacing:0.308px;">Abu Dhabi Clothing</span>
<span class="t" id="t97" style="left:1116.00px;top:414.25px;font-size:15.00px;color:#2b2b25;letter-spacing:0.984px;-webkit-text-stroke:0.3px;">13%</span>
<span class="t" id="t98" style="left:977.50px;top:442.25px;font-size:15.00px;color:#7f7e70;letter-spacing:0.544px;">Tatweer Clothing</span>
<span class="t" id="t99" style="left:1101.00px;top:442.25px;font-size:15.00px;color:#2b2b25;letter-spacing:1.113px;-webkit-text-stroke:0.3px;">12,6%</span>
<span class="t" id="t100" style="left:977.50px;top:470.25px;font-size:15.00px;color:#7f7e70;letter-spacing:0.186px;">al-Banna Weaving</span>
<span class="t" id="t101" style="left:1106.70px;top:470.25px;font-size:15.00px;color:#2b2b25;letter-spacing:1.113px;-webkit-text-stroke:0.3px;">12,1%</span>
<span class="t" id="t102" style="left:977.50px;top:498.25px;font-size:15.00px;color:#7f7e70;letter-spacing:0.374px;">Amman Threads</span>
<span class="t" id="t103" style="left:1096.30px;top:498.25px;font-size:15.00px;color:#2b2b25;letter-spacing:1.220px;-webkit-text-stroke:0.3px;">11,2%</span>
<span class="t" id="t104" style="left:977.50px;top:526.25px;font-size:15.00px;color:#7f7e70;letter-spacing:0.540px;">Local competitors</span>
<span class="t" id="t105" style="left:1107.40px;top:526.25px;font-size:15.00px;color:#2b2b25;letter-spacing:1.113px;-webkit-text-stroke:0.3px;">37,3%</span>
<span class="t" id="t106" style="left:731.20px;top:614.45px;font-size:14.30px;color:#2a2a24;font-weight:700;letter-spacing:0.625px;">Ticker</span>
<span class="t" id="t107" style="left:814.20px;top:614.45px;font-size:14.30px;color:#2a2a24;font-weight:700;letter-spacing:0.332px;">Revenue</span>
<span class="t" id="t108" style="left:912.50px;top:615.30px;font-size:13.30px;color:#2a2a24;font-weight:700;letter-spacing:0.475px;">Mkt. %</span>
<span class="t" id="t109" style="left:1001.70px;top:614.45px;font-size:14.30px;color:#2a2a24;font-weight:700;letter-spacing:-0.221px;">Assets</span>
<span class="t" id="t110" style="left:1098.00px;top:614.45px;font-size:14.30px;color:#2a2a24;font-weight:700;letter-spacing:0.379px;">Price</span>
<span class="t" id="t111" style="left:1176.70px;top:614.45px;font-size:14.30px;color:#2a2a24;font-weight:700;letter-spacing:0.297px;">Brand</span>
<span class="t" id="t112" style="left:730.80px;top:649.72px;font-size:14.80px;color:#737264;letter-spacing:-0.250px;transform:scaleX(0.8834);text-decoration:underline;text-underline-offset:2px;text-decoration-thickness:1px;text-decoration-skip-ink:none;text-decoration-color:rgba(50,50,40,.55);">AWE1</span>
<span class="t" id="t113" style="left:824.20px;top:649.72px;font-size:14.80px;color:#737264;letter-spacing:-0.250px;transform:scaleX(0.9091);">52 M $</span>
<span class="t" id="t114" style="left:920.80px;top:649.72px;font-size:14.80px;color:#737264;letter-spacing:-0.250px;transform:scaleX(0.9579);">14%</span>
<span class="t" id="t115" style="left:1004.20px;top:649.72px;font-size:14.80px;color:#737264;letter-spacing:-0.250px;transform:scaleX(0.9091);">52 M $</span>
<span class="t" id="t116" style="left:1100.80px;top:649.72px;font-size:14.80px;color:#737264;letter-spacing:-0.250px;transform:scaleX(0.9241);">1,7 $</span>
<span class="t" id="t117" style="left:1184.70px;top:649.72px;font-size:14.80px;color:#737264;letter-spacing:-0.250px;transform:scaleX(0.9434);">36</span>
<span class="t" id="t118" style="left:730.80px;top:684.72px;font-size:14.80px;color:#737264;letter-spacing:-0.250px;transform:scaleX(0.9040);text-decoration:underline;text-underline-offset:2px;text-decoration-thickness:1px;text-decoration-skip-ink:none;text-decoration-color:rgba(50,50,40,.55);">ABDH</span>
<span class="t" id="t119" style="left:824.20px;top:684.72px;font-size:14.80px;color:#737264;letter-spacing:-0.250px;transform:scaleX(0.9091);">58 M $</span>
<span class="t" id="t120" style="left:920.80px;top:684.72px;font-size:14.80px;color:#737264;letter-spacing:-0.250px;transform:scaleX(0.9579);">13%</span>
<span class="t" id="t121" style="left:1004.20px;top:684.72px;font-size:14.80px;color:#737264;letter-spacing:-0.250px;transform:scaleX(0.9091);">58 M $</span>
<span class="t" id="t122" style="left:1100.80px;top:684.72px;font-size:14.80px;color:#737264;letter-spacing:-0.250px;transform:scaleX(0.9241);">2,1 $</span>
<span class="t" id="t123" style="left:1184.70px;top:684.72px;font-size:14.80px;color:#737264;letter-spacing:-0.250px;transform:scaleX(0.9434);">45</span>
<span class="t" id="t124" style="left:730.80px;top:719.72px;font-size:14.80px;color:#737264;letter-spacing:-0.250px;transform:scaleX(0.8810);text-decoration:underline;text-underline-offset:2px;text-decoration-thickness:1px;text-decoration-skip-ink:none;text-decoration-color:rgba(50,50,40,.55);">TCL</span>
<span class="t" id="t125" style="left:824.20px;top:719.72px;font-size:14.80px;color:#737264;letter-spacing:-0.250px;transform:scaleX(0.9091);">56 M $</span>
<span class="t" id="t126" style="left:920.80px;top:719.72px;font-size:14.80px;color:#737264;letter-spacing:-0.250px;transform:scaleX(0.9579);">13%</span>
<span class="t" id="t127" style="left:1004.20px;top:719.72px;font-size:14.80px;color:#737264;letter-spacing:-0.250px;transform:scaleX(0.9091);">56 M $</span>
<span class="t" id="t128" style="left:1100.80px;top:719.72px;font-size:14.80px;color:#737264;letter-spacing:-0.250px;transform:scaleX(0.9241);">2,1 $</span>
<span class="t" id="t129" style="left:1184.70px;top:719.72px;font-size:14.80px;color:#737264;letter-spacing:-0.250px;transform:scaleX(0.9434);">35</span>
<span class="t" id="t130" style="left:730.80px;top:754.72px;font-size:14.80px;color:#737264;letter-spacing:-0.250px;transform:scaleX(0.8790);text-decoration:underline;text-underline-offset:2px;text-decoration-thickness:1px;text-decoration-skip-ink:none;text-decoration-color:rgba(50,50,40,.55);">BWE</span>
<span class="t" id="t131" style="left:824.20px;top:754.72px;font-size:14.80px;color:#737264;letter-spacing:-0.250px;transform:scaleX(0.9091);">54 M $</span>
<span class="t" id="t132" style="left:920.80px;top:754.72px;font-size:14.80px;color:#737264;letter-spacing:-0.250px;transform:scaleX(0.9579);">12%</span>
<span class="t" id="t133" style="left:1004.20px;top:754.72px;font-size:14.80px;color:#737264;letter-spacing:-0.250px;transform:scaleX(0.9091);">54 M $</span>
<span class="t" id="t134" style="left:1100.80px;top:754.72px;font-size:14.80px;color:#737264;letter-spacing:-0.250px;transform:scaleX(0.9241);">2,1 $</span>
<span class="t" id="t135" style="left:1184.70px;top:754.72px;font-size:14.80px;color:#737264;letter-spacing:-0.250px;transform:scaleX(0.9434);">33</span>
<span class="t" id="t136" style="left:730.80px;top:789.72px;font-size:14.80px;color:#737264;letter-spacing:-0.250px;transform:scaleX(0.9357);text-decoration:underline;text-underline-offset:2px;text-decoration-thickness:1px;text-decoration-skip-ink:none;text-decoration-color:rgba(50,50,40,.55);">ATH</span>
<span class="t" id="t137" style="left:824.20px;top:789.72px;font-size:14.80px;color:#737264;letter-spacing:-0.250px;transform:scaleX(0.9091);">56 M $</span>
<span class="t" id="t138" style="left:920.80px;top:789.72px;font-size:14.80px;color:#737264;letter-spacing:-0.250px;transform:scaleX(0.9953);">11%</span>
<span class="t" id="t139" style="left:1004.20px;top:789.72px;font-size:14.80px;color:#737264;letter-spacing:-0.250px;transform:scaleX(0.9091);">56 M $</span>
<span class="t" id="t140" style="left:1100.80px;top:789.72px;font-size:14.80px;color:#737264;letter-spacing:-0.250px;transform:scaleX(0.9241);">2,3 $</span>
<span class="t" id="t141" style="left:1184.70px;top:789.72px;font-size:14.80px;color:#737264;letter-spacing:-0.250px;transform:scaleX(0.9434);">48</span></body></html>
